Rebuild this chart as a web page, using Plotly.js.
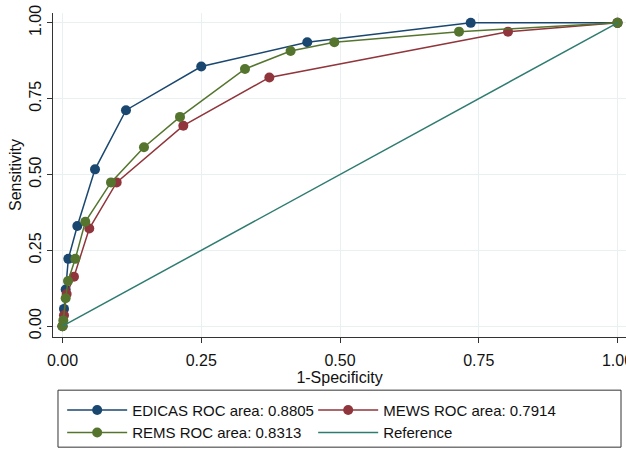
<!DOCTYPE html>
<html>
<head>
<meta charset="utf-8">
<script src="https://cdn.plot.ly/plotly-3.0.1.min.js"></script>
<style>html,body{margin:0;padding:0;background:#fff;}#chart{width:626px;height:449px;}</style>
</head>
<body>
<div id="chart"></div>
<script>
// ROC points (1-Specificity, Sensitivity)
const edicasX = [0, 0.0027, 0.0057, 0.0105, 0.0267, 0.0586, 0.1144, 0.2500, 0.4410, 0.7355, 1];
const edicasY = [0, 0.057, 0.121, 0.222, 0.330, 0.517, 0.712, 0.856, 0.936, 1.000, 1];
const mewsX = [0, 0.0027, 0.0075, 0.0207, 0.0483, 0.0976, 0.2177, 0.3727, 0.8027, 1];
const mewsY = [0, 0.036, 0.106, 0.163, 0.322, 0.474, 0.661, 0.820, 0.971, 1];
const remsX = [0, 0.0015, 0.0057, 0.0099, 0.0231, 0.0411, 0.0874, 0.1468, 0.2117, 0.3288, 0.4110, 0.4898, 0.7144, 1];
const remsY = [0, 0.019, 0.092, 0.149, 0.222, 0.344, 0.474, 0.590, 0.690, 0.848, 0.907, 0.936, 0.971, 1];
const refX = [0, 1];
const refY = [0, 1];
const names = ['EDICAS ROC area: 0.8805', 'MEWS ROC area: 0.7914', 'REMS ROC area: 0.8313', 'Reference'];
const tickVals = [0, 0.25, 0.5, 0.75, 1];
const tickText = ['0.00', '0.25', '0.50', '0.75', '1.00'];

const colors = ['#1a476f', '#90353b', '#55752f', '#2e7b70'];
const font = 'Liberation Sans, Arial, sans-serif';

function rocTrace(x, y, name, color) {
  return {x: x, y: y, name: name, type: 'scatter', mode: 'lines+markers',
    line: {color: color, width: 1.5}, marker: {color: color, size: 10}};
}
const data = [
  rocTrace(edicasX, edicasY, names[0], colors[0]),
  rocTrace(mewsX, mewsY, names[1], colors[1]),
  rocTrace(remsX, remsY, names[2], colors[2]),
  {x: refX, y: refY, name: names[3], type: 'scatter', mode: 'lines', line: {color: colors[3], width: 1.5}}
];
const axisCommon = {
  tickvals: tickVals, ticktext: tickText, ticks: 'outside', ticklen: 5, tickcolor: '#333',
  showline: true, linecolor: '#333', linewidth: 1, mirror: false,
  showgrid: true, gridcolor: '#e8f0f2', gridwidth: 1, zeroline: false,
  ticklabeloverflow: 'allow', automargin: false,
  tickfont: {family: font, size: 16, color: '#111'}
};
const layout = {
  width: 626, height: 449,
  margin: {l: 53, r: 0, t: 13, b: 107},
  paper_bgcolor: '#fff', plot_bgcolor: '#fff',
  font: {family: font, color: '#111'},
  xaxis: Object.assign({}, axisCommon, {range: [-0.0171, 1.0153], ticklabelstandoff: 4,
    title: {text: '1-Specificity', font: {family: font, size: 16, color: '#111'}, standoff: 2}}),
  yaxis: Object.assign({}, axisCommon, {range: [-0.0357, 1.0325], tickangle: -90,
    title: {text: 'Sensitivity', font: {family: font, size: 16, color: '#111'}, standoff: 0}}),
  showlegend: true,
  legend: {orientation: 'h', x: 0.016, xanchor: 'left', y: -0.175, yanchor: 'top',
    borderwidth: 0, bgcolor: 'rgba(0,0,0,0)', font: {family: font, size: 15, color: '#111'},
    entrywidth: 176, entrywidthmode: 'pixels', itemwidth: 60, valign: 'middle'},
  shapes: [{type: 'rect', xref: 'paper', yref: 'paper', x0: 0.0087, x1: 0.9913, y0: -0.1641, y1: -0.34,
    line: {color: '#333', width: 1}, fillcolor: 'rgba(0,0,0,0)', layer: 'above'}]
};
Plotly.newPlot('chart', data, layout, {staticPlot: true, displayModeBar: false});
</script>
</body>
</html>
